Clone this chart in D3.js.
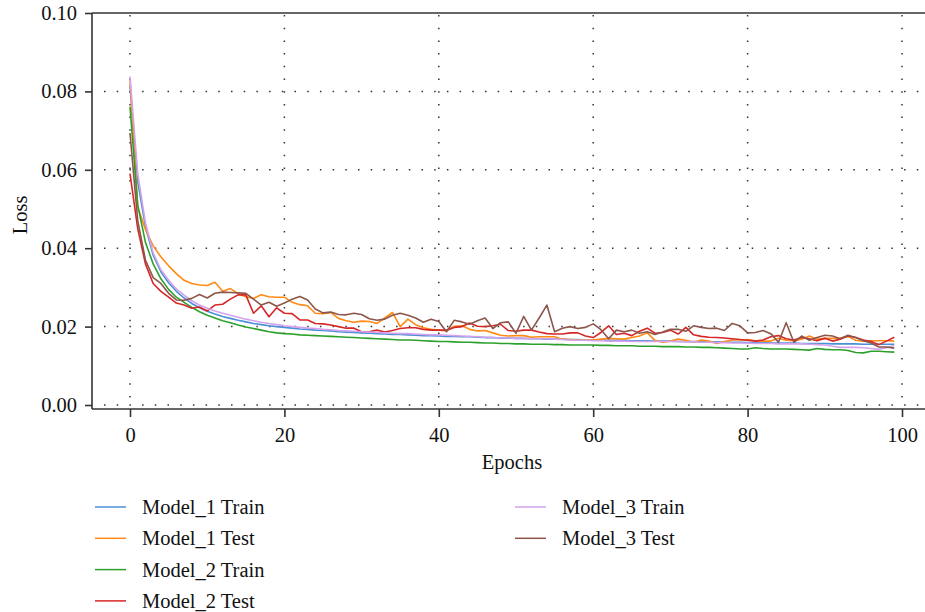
<!DOCTYPE html>
<html>
<head>
    <script src="https://d3js.org/d3.v7.min.js"></script>
    <style>
        body { margin: 0; background: #fff; }
        text { font-family: "Liberation Serif", "DejaVu Serif", serif; fill: #111; }
    </style>
</head>
<body>
    <svg width="925" height="612"></svg>
    <script>
        // epochs 0..99
        const epochs = d3.range(100);

        const model1Train = [
            0.0815, 0.0570, 0.0455, 0.0382, 0.0340, 0.0312, 0.0290, 0.0273, 0.0259, 0.0248,
            0.0239, 0.0232, 0.0226, 0.0221, 0.0216, 0.0212, 0.0208, 0.0205, 0.0202, 0.0200,
            0.0198, 0.0196, 0.0194, 0.0193, 0.0191, 0.0190, 0.0189, 0.0187, 0.0186, 0.0185,
            0.0184, 0.0183, 0.0182, 0.0181, 0.0180, 0.0180, 0.0179, 0.0178, 0.0177, 0.0177,
            0.0176, 0.0175, 0.0175, 0.0174, 0.0174, 0.0173, 0.0172, 0.0172, 0.0171, 0.0171,
            0.0170, 0.0170, 0.0169, 0.0169, 0.0168, 0.0168, 0.0168, 0.0167, 0.0167, 0.0166,
            0.0166, 0.0166, 0.0165, 0.0165, 0.0165, 0.0164, 0.0164, 0.0164, 0.0163, 0.0163,
            0.0163, 0.0162, 0.0162, 0.0162, 0.0161, 0.0161, 0.0161, 0.0160, 0.0160, 0.0160,
            0.0159, 0.0159, 0.0159, 0.0158, 0.0158, 0.0158, 0.0158, 0.0157, 0.0157, 0.0157,
            0.0157, 0.0156, 0.0156, 0.0156, 0.0156, 0.0155, 0.0155, 0.0155, 0.0155, 0.0155
        ];
        const model1Test = [
            0.0830, 0.0505, 0.0448, 0.0406, 0.0378, 0.0355, 0.0335, 0.0318, 0.0310, 0.0306,
            0.0305, 0.0313, 0.0290, 0.0297, 0.0284, 0.0276, 0.0272, 0.0281, 0.0276, 0.0275,
            0.0275, 0.0262, 0.0256, 0.0253, 0.0234, 0.0233, 0.0236, 0.0221, 0.0215, 0.0211,
            0.0214, 0.0213, 0.0208, 0.0222, 0.0236, 0.0200, 0.0219, 0.0205, 0.0197, 0.0193,
            0.0191, 0.0189, 0.0201, 0.0202, 0.0193, 0.0189, 0.0190, 0.0184, 0.0178, 0.0176,
            0.0177, 0.0177, 0.0173, 0.0174, 0.0174, 0.0174, 0.0168, 0.0167, 0.0166, 0.0166,
            0.0166, 0.0168, 0.0170, 0.0169, 0.0168, 0.0172, 0.0176, 0.0184, 0.0165, 0.0160,
            0.0163, 0.0168, 0.0165, 0.0160, 0.0166, 0.0163, 0.0157, 0.0162, 0.0166, 0.0166,
            0.0167, 0.0164, 0.0163, 0.0163, 0.0170, 0.0165, 0.0164, 0.0168, 0.0176, 0.0168,
            0.0170, 0.0170, 0.0171, 0.0175, 0.0165, 0.0163, 0.0164, 0.0164, 0.0164, 0.0163
        ];
        const model2Train = [
            0.0761, 0.0510, 0.0415, 0.0360, 0.0322, 0.0295, 0.0275, 0.0262, 0.0249, 0.0238,
            0.0229, 0.0222, 0.0215, 0.0210, 0.0204, 0.0199, 0.0195, 0.0191, 0.0187, 0.0184,
            0.0182, 0.0181, 0.0179, 0.0178, 0.0177, 0.0176, 0.0175, 0.0174, 0.0173, 0.0172,
            0.0171, 0.0170, 0.0169, 0.0168, 0.0167, 0.0166, 0.0166, 0.0165, 0.0164, 0.0163,
            0.0162, 0.0162, 0.0161, 0.0160, 0.0160, 0.0159, 0.0158, 0.0158, 0.0157, 0.0157,
            0.0156, 0.0156, 0.0155, 0.0155, 0.0155, 0.0154, 0.0154, 0.0153, 0.0153, 0.0153,
            0.0153, 0.0152, 0.0152, 0.0151, 0.0151, 0.0151, 0.0150, 0.0150, 0.0150, 0.0149,
            0.0149, 0.0149, 0.0148, 0.0148, 0.0147, 0.0147, 0.0146, 0.0145, 0.0144, 0.0143,
            0.0143, 0.0146, 0.0144, 0.0143, 0.0143, 0.0143, 0.0142, 0.0141, 0.0140, 0.0144,
            0.0142, 0.0141, 0.0141, 0.0139, 0.0134, 0.0133, 0.0137, 0.0137, 0.0136, 0.0135
        ];
        const model2Test = [
            0.0590, 0.0450, 0.0360, 0.0310, 0.0290, 0.0275, 0.0260, 0.0255, 0.0247, 0.0250,
            0.0240, 0.0255, 0.0257, 0.0270, 0.0281, 0.0281, 0.0234, 0.0253, 0.0225, 0.0248,
            0.0234, 0.0233, 0.0217, 0.0217, 0.0208, 0.0207, 0.0204, 0.0200, 0.0196, 0.0196,
            0.0187, 0.0187, 0.0191, 0.0186, 0.0190, 0.0195, 0.0197, 0.0197, 0.0193, 0.0191,
            0.0191, 0.0191, 0.0198, 0.0200, 0.0209, 0.0201, 0.0200, 0.0202, 0.0206, 0.0190,
            0.0188, 0.0191, 0.0191, 0.0186, 0.0182, 0.0181, 0.0181, 0.0184, 0.0184, 0.0176,
            0.0172, 0.0185, 0.0202, 0.0180, 0.0183, 0.0177, 0.0188, 0.0196, 0.0183, 0.0185,
            0.0191, 0.0181, 0.0198, 0.0179, 0.0175, 0.0173, 0.0172, 0.0171, 0.0169, 0.0167,
            0.0165, 0.0163, 0.0166, 0.0174, 0.0177, 0.0169, 0.0166, 0.0172, 0.0169, 0.0164,
            0.0170, 0.0163, 0.0168, 0.0176, 0.0172, 0.0166, 0.0162, 0.0154, 0.0163, 0.0173
        ];
        const model3Train = [
            0.0838, 0.0590, 0.0465, 0.0388, 0.0345, 0.0318, 0.0296, 0.0280, 0.0266, 0.0255,
            0.0247, 0.0240, 0.0234, 0.0229, 0.0224, 0.0219, 0.0215, 0.0211, 0.0208, 0.0205,
            0.0202, 0.0200, 0.0198, 0.0196, 0.0195, 0.0193, 0.0192, 0.0190, 0.0189, 0.0188,
            0.0187, 0.0186, 0.0185, 0.0184, 0.0183, 0.0182, 0.0182, 0.0181, 0.0180, 0.0179,
            0.0179, 0.0178, 0.0177, 0.0176, 0.0175, 0.0174, 0.0173, 0.0172, 0.0171, 0.0171,
            0.0170, 0.0170, 0.0169, 0.0169, 0.0169, 0.0168, 0.0167, 0.0166, 0.0165, 0.0165,
            0.0164, 0.0164, 0.0163, 0.0163, 0.0163, 0.0162, 0.0162, 0.0162, 0.0162, 0.0162,
            0.0162, 0.0162, 0.0161, 0.0161, 0.0160, 0.0160, 0.0159, 0.0159, 0.0158, 0.0158,
            0.0158, 0.0157, 0.0157, 0.0157, 0.0156, 0.0156, 0.0156, 0.0156, 0.0155, 0.0154,
            0.0153, 0.0150, 0.0147, 0.0147, 0.0147, 0.0146, 0.0144, 0.0142, 0.0146, 0.0152
        ];
        const model3Test = [
            0.0694, 0.0470, 0.0370, 0.0325, 0.0310, 0.0285, 0.0268, 0.0267, 0.0272, 0.0282,
            0.0273, 0.0285, 0.0288, 0.0287, 0.0286, 0.0285, 0.0270, 0.0255, 0.0262, 0.0252,
            0.0260, 0.0270, 0.0277, 0.0268, 0.0245, 0.0235, 0.0237, 0.0231, 0.0230, 0.0234,
            0.0231, 0.0220, 0.0216, 0.0219, 0.0229, 0.0234, 0.0229, 0.0222, 0.0211, 0.0219,
            0.0213, 0.0187, 0.0216, 0.0212, 0.0206, 0.0215, 0.0222, 0.0195, 0.0210, 0.0212,
            0.0183, 0.0226, 0.0191, 0.0222, 0.0255, 0.0187, 0.0196, 0.0200, 0.0195, 0.0198,
            0.0207, 0.0192, 0.0169, 0.0191, 0.0187, 0.0191, 0.0183, 0.0187, 0.0180, 0.0186,
            0.0193, 0.0193, 0.0188, 0.0202, 0.0198, 0.0195, 0.0196, 0.0190, 0.0208, 0.0202,
            0.0184, 0.0185, 0.0190, 0.0182, 0.0160, 0.0210, 0.0160, 0.0176, 0.0165, 0.0172,
            0.0178, 0.0176, 0.0169, 0.0178, 0.0172, 0.0164, 0.0158, 0.0148, 0.0148, 0.0145
        ];

        const seriesNames = ["Model_1 Train", "Model_1 Test", "Model_2 Train", "Model_2 Test", "Model_3 Train", "Model_3 Test"];
        const seriesValues = [model1Train, model1Test, model2Train, model2Test, model3Train, model3Test];
        const seriesColors = ["#4b8fd6", "#ff8a14", "#2ca02c", "#d62728", "#d3a3ec", "#8c564b"];

        const xTicks = [0, 20, 40, 60, 80, 100];
        const yTicks = [0, 0.02, 0.04, 0.06, 0.08, 0.10];

        const fontSize = 20.5;
        const frameLeft = 92, frameRight = 925, frameTop = 13, frameBottom = 409;

        const svg = d3.select("svg");

        const x = d3.scaleLinear().domain([0, 100]).range([130, 902]);
        const y = d3.scaleLinear().domain([0, 0.1]).range([405, 13]);

        // dotted grid
        const grid = svg.append("g")
            .attr("stroke", "#333")
            .attr("stroke-width", 1.5)
            .attr("stroke-dasharray", "1.5,11.2");
        grid.selectAll(".gx")
            .data(xTicks)
            .enter()
            .append("line")
            .attr("x1", d => x(d)).attr("x2", d => x(d))
            .attr("y1", frameTop + 2).attr("y2", y(0));
        grid.selectAll(".gy")
            .data(yTicks.slice(0, -1))
            .enter()
            .append("line")
            .attr("x1", frameLeft + 12).attr("x2", frameRight)
            .attr("y1", d => y(d)).attr("y2", d => y(d));

        // lines
        const line = d3.line()
            .x((d, i) => x(epochs[i]))
            .y(d => y(d));

        svg.append("g")
            .selectAll("path")
            .data(seriesValues)
            .enter()
            .append("path")
            .attr("d", d => line(d))
            .attr("fill", "none")
            .attr("stroke", (d, i) => seriesColors[i])
            .attr("stroke-width", 1.6)
            .attr("stroke-linejoin", "round");

        // frame
        const frame = svg.append("g").attr("stroke", "#333").attr("stroke-width", 1.6);
        frame.append("line").attr("x1", frameLeft).attr("x2", frameRight).attr("y1", frameTop).attr("y2", frameTop);
        frame.append("line").attr("x1", frameLeft).attr("x2", frameLeft).attr("y1", frameTop).attr("y2", frameBottom);
        frame.append("line").attr("x1", frameLeft).attr("x2", frameRight).attr("y1", frameBottom).attr("y2", frameBottom);

        // axes
        const xAxis = svg.append("g")
            .attr("transform", "translate(0," + frameBottom + ")")
            .call(d3.axisBottom(x).tickValues(xTicks).tickSize(8).tickPadding(10));
        const yAxis = svg.append("g")
            .attr("transform", "translate(" + frameLeft + ",0)")
            .call(d3.axisLeft(y).tickValues(yTicks).tickFormat(d3.format(".2f")).tickSize(7).tickPadding(8));

        [xAxis, yAxis].forEach(g => {
            g.select(".domain").remove();
            g.selectAll(".tick line").attr("stroke", "#333").attr("stroke-width", 1.6);
            g.selectAll(".tick text")
                .attr("font-family", "Liberation Serif")
                .attr("font-size", fontSize)
                .attr("fill", "#111");
        });

        svg.append("text")
            .attr("x", 512)
            .attr("y", 469)
            .attr("text-anchor", "middle")
            .attr("font-size", fontSize)
            .text("Epochs");

        svg.append("text")
            .attr("transform", "rotate(-90)")
            .attr("x", -215)
            .attr("y", 27)
            .attr("text-anchor", "middle")
            .attr("font-size", fontSize)
            .text("Loss");

        // legend, two columns
        const legend = svg.append("g");
        const items = legend.selectAll("g")
            .data(seriesNames)
            .enter()
            .append("g")
            .attr("transform", (d, i) => {
                const col = i < 4 ? 0 : 1;
                const row = i < 4 ? i : i - 4;
                return "translate(" + (95 + col * 420) + "," + (507 + row * 31.3) + ")";
            });
        items.append("line")
            .attr("x1", 0).attr("x2", 31)
            .attr("stroke", (d, i) => seriesColors[i])
            .attr("stroke-width", 1.5);
        items.append("text")
            .attr("x", 47)
            .attr("y", 7)
            .attr("font-size", fontSize)
            .text(d => d);
    </script>
</body>
</html>
